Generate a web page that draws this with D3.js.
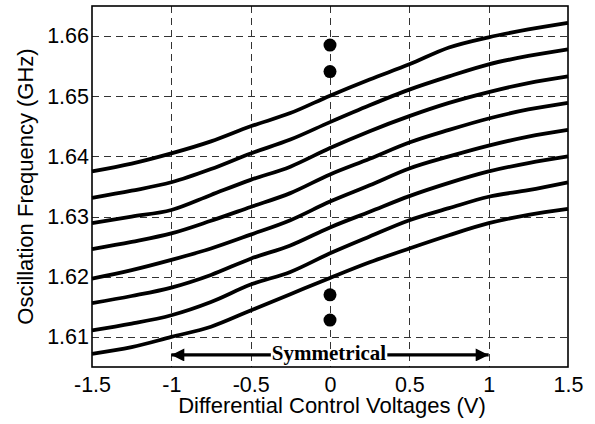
<!DOCTYPE html>
<html>
<head>
<meta charset="utf-8">
<script src="https://cdn.jsdelivr.net/npm/d3@7"></script>
<style>
  body { margin: 0; background: #fff; }
</style>
</head>
<body>
<div id="chart"></div>
<script>
// control voltage sweep (V)
var voltages = [-1.5, -1.25, -1, -0.75, -0.5, -0.25, 0, 0.25, 0.5, 0.75, 1, 1.25, 1.5];

// oscillation frequency curves (GHz), top to bottom
var curve1 = [1.6375, 1.6388, 1.6405, 1.6425, 1.6450, 1.6472, 1.6501, 1.6528, 1.6553, 1.6581, 1.6598, 1.6611, 1.6622];
var curve2 = [1.6331, 1.6343, 1.6357, 1.6379, 1.6405, 1.6428, 1.6457, 1.6485, 1.6511, 1.6533, 1.6553, 1.6567, 1.6578];
var curve3 = [1.6289, 1.6300, 1.6311, 1.6336, 1.6361, 1.6383, 1.6414, 1.6442, 1.6467, 1.6489, 1.6507, 1.6522, 1.6533];
var curve4 = [1.6246, 1.6258, 1.6272, 1.6293, 1.6316, 1.6339, 1.6370, 1.6396, 1.6423, 1.6444, 1.6463, 1.6478, 1.6489];
var curve5 = [1.6197, 1.6211, 1.6228, 1.6247, 1.6270, 1.6294, 1.6325, 1.6352, 1.6380, 1.6400, 1.6418, 1.6433, 1.6444];
var curve6 = [1.6156, 1.6168, 1.6182, 1.6203, 1.6230, 1.6252, 1.6282, 1.6308, 1.6334, 1.6356, 1.6375, 1.6389, 1.6400];
var curve7 = [1.6111, 1.6122, 1.6136, 1.6158, 1.6187, 1.6208, 1.6239, 1.6267, 1.6294, 1.6314, 1.6333, 1.6344, 1.6357];
var curve8 = [1.6072, 1.6083, 1.6100, 1.6117, 1.6144, 1.6171, 1.6198, 1.6224, 1.6247, 1.6269, 1.6289, 1.6303, 1.6313];
var curves = [curve1, curve2, curve3, curve4, curve5, curve6, curve7, curve8];

// marker dots at 0 V
var dotX = [0, 0, 0, 0];
var dotY = [1.6585, 1.6541, 1.6170, 1.6128];

// "Symmetrical" range arrow
var arrowRange = [-1, 1];
var arrowLevel = 1.6070;

var xTicks = [-1.5, -1, -0.5, 0, 0.5, 1, 1.5];
var yTicks = [1.61, 1.62, 1.63, 1.64, 1.65, 1.66];

var sans = "Arial, 'Liberation Sans', sans-serif";
var serif = "'Times New Roman', 'Liberation Serif', serif";

var W = 595, H = 424;
var margin = {top: 6, right: 27, bottom: 57, left: 92},
    width = W - margin.left - margin.right,
    height = H - margin.top - margin.bottom;

var svg = d3.select("#chart")
  .append("svg")
    .attr("width", W)
    .attr("height", H)
  .append("g")
    .attr("transform", "translate(" + margin.left + "," + margin.top + ")");

var x = d3.scaleLinear().domain([-1.5, 1.5]).range([0, width]);
var y = d3.scaleLinear().domain([1.605, 1.665]).range([height, 0]);

// grid (dashed)
svg.append("g")
  .selectAll("line.vg")
  .data(xTicks.slice(1, -1))
  .enter().append("line")
    .attr("x1", d => Math.round(x(d)) + 0.5)
    .attr("x2", d => Math.round(x(d)) + 0.5)
    .attr("y1", 0).attr("y2", height)
    .attr("stroke", "#333").attr("stroke-width", 1)
    .attr("stroke-dasharray", "7,5");

svg.append("g")
  .selectAll("line.hg")
  .data(yTicks)
  .enter().append("line")
    .attr("x1", 0).attr("x2", width)
    .attr("y1", d => Math.round(y(d)) + 0.5)
    .attr("y2", d => Math.round(y(d)) + 0.5)
    .attr("stroke", "#333").attr("stroke-width", 1)
    .attr("stroke-dasharray", "7,5");

// axes: labels only, no tick marks
var xAxis = svg.append("g")
  .attr("transform", "translate(0," + height + ")")
  .call(d3.axisBottom(x).tickValues(xTicks).tickSize(0).tickPadding(9).tickFormat(d => String(d)));
var yAxis = svg.append("g")
  .call(d3.axisLeft(y).tickValues(yTicks).tickSize(0).tickPadding(3).tickFormat(d => d.toFixed(2)));
xAxis.select(".domain").remove();
yAxis.select(".domain").remove();
svg.selectAll(".tick text")
  .style("font-family", sans)
  .style("font-size", "21.5px")
  .attr("fill", "#000");
xAxis.selectAll(".tick text").attr("dy", null).attr("y", 25);

// curves
var line = d3.line()
  .x((d, i) => x(voltages[i]))
  .y(d => y(d))
  .curve(d3.curveMonotoneX);

svg.append("g")
  .selectAll("path")
  .data(curves)
  .enter().append("path")
    .attr("d", line)
    .attr("fill", "none")
    .attr("stroke", "#000")
    .attr("stroke-width", 3.8)
    .attr("stroke-linejoin", "round");

// dots
svg.append("g")
  .selectAll("circle")
  .data(dotY)
  .enter().append("circle")
    .attr("cx", (d, i) => x(dotX[i]))
    .attr("cy", d => y(d))
    .attr("r", 6.5)
    .attr("fill", "#000");

// double arrow
var defs = svg.append("defs");
["start", "end"].forEach(function(k) {
  defs.append("marker")
    .attr("id", "arr-" + k)
    .attr("viewBox", "0 0 10 10")
    .attr("refX", k === "end" ? 10 : 0)
    .attr("refY", 5)
    .attr("markerUnits", "userSpaceOnUse")
    .attr("markerWidth", 15)
    .attr("markerHeight", 13)
    .attr("orient", "auto")
  .append("path")
    .attr("d", k === "end" ? "M0,0L10,5L0,10Z" : "M10,0L0,5L10,10Z")
    .attr("fill", "#000");
});

svg.append("line")
  .attr("x1", x(arrowRange[0])).attr("x2", x(arrowRange[1]))
  .attr("y1", y(arrowLevel)).attr("y2", y(arrowLevel))
  .attr("stroke", "#000").attr("stroke-width", 3.2)
  .attr("marker-start", "url(#arr-start)")
  .attr("marker-end", "url(#arr-end)");

var symBg = svg.append("rect").attr("fill", "#fff");
var sym = svg.append("text")
  .attr("x", x(0) - 1)
  .attr("y", y(arrowLevel) + 5)
  .attr("text-anchor", "middle")
  .style("font-family", serif)
  .style("font-weight", "bold")
  .style("font-size", "21px")
  .text("Symmetrical");
var bb = sym.node().getBBox();
symBg
  .attr("x", bb.x - 1).attr("y", y(arrowLevel) - 5)
  .attr("width", bb.width + 2).attr("height", 10);

// frame
svg.append("rect")
  .attr("x", 0).attr("y", 0)
  .attr("width", width).attr("height", height)
  .attr("fill", "none")
  .attr("stroke", "#000")
  .attr("stroke-width", 1.6);

// axis titles
svg.append("text")
  .attr("text-anchor", "middle")
  .attr("x", width / 2 + 2)
  .attr("y", height + 45.5)
  .style("font-family", sans)
  .style("font-size", "22px")
  .text("Differential Control Voltages (V)");

svg.append("text")
  .attr("text-anchor", "middle")
  .attr("transform", "rotate(-90)")
  .attr("x", -height / 2)
  .attr("y", -59)
  .style("font-family", sans)
  .style("font-size", "22px")
  .text("Oscillation Frequency (GHz)");
</script>
</body>
</html>
